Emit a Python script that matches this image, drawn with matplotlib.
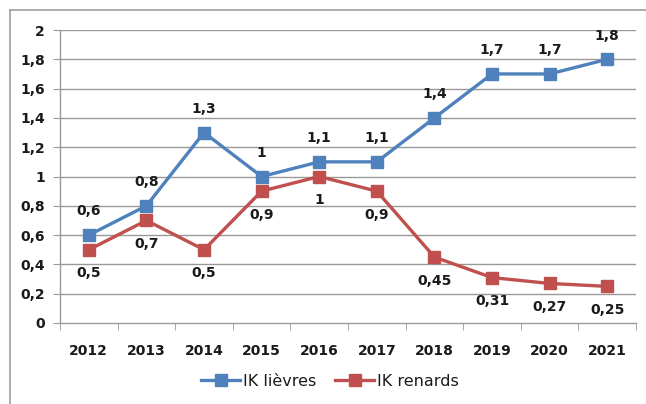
import matplotlib
matplotlib.use("Agg")
import matplotlib.pyplot as plt
from matplotlib.lines import Line2D
import numpy as np

years = ["2012", "2013", "2014", "2015", "2016", "2017", "2018", "2019", "2020", "2021"]
lievres = [0.6, 0.8, 1.3, 1.0, 1.1, 1.1, 1.4, 1.7, 1.7, 1.8]
renards = [0.5, 0.7, 0.5, 0.9, 1.0, 0.9, 0.45, 0.31, 0.27, 0.25]
series_names = ["IK lièvres", "IK renards"]
yticks = [0, 0.2, 0.4, 0.6, 0.8, 1.0, 1.2, 1.4, 1.6, 1.8, 2.0]

blue = "#4F81BD"
red = "#C0504D"
grid = "#999999"

def fr(v):
    s = ("%.2f" % v).rstrip("0").rstrip(".")
    return s.replace(".", ",")

plt.rcParams["font.family"] = ["DejaVu Sans"]
fig = plt.figure(figsize=(6.46, 4.04), dpi=100)
ax = fig.add_axes([60/646, 81/404, 576/646, 293/404])

x = np.arange(len(years))
ax.plot(x, lievres, color=blue, lw=2.4, marker="s", ms=8.5, label=series_names[0], zorder=3)
ax.plot(x, renards, color=red, lw=2.4, marker="s", ms=8.5, label=series_names[1], zorder=3)

for xi, v in zip(x, lievres):
    ax.annotate(fr(v), (xi, v), xytext=(0, 12), textcoords="offset points",
                ha="center", va="bottom", fontsize=10, fontweight="bold", color="#1a1a1a")
for xi, v in zip(x, renards):
    ax.annotate(fr(v), (xi, v), xytext=(0, -12), textcoords="offset points",
                ha="center", va="top", fontsize=10, fontweight="bold", color="#1a1a1a")

ax.set_xlim(-0.5, len(years) - 0.5)
ax.set_ylim(0, 2)
ax.set_yticks(yticks)
ax.set_yticklabels([fr(v) for v in yticks], fontsize=10, fontweight="bold", color="#1a1a1a")
ax.set_xticks(x)
ax.set_xticklabels(years, fontsize=10, fontweight="bold", color="#1a1a1a")
ax.tick_params(axis="x", which="major", length=0, pad=15)
ax.set_xticks(np.arange(-0.5, len(years)), minor=True)
ax.tick_params(axis="x", which="minor", length=5, color=grid, direction="out")
ax.tick_params(axis="y", which="major", length=5, color=grid, direction="out", pad=6)

for v in yticks[1:]:
    ax.axhline(v, color=grid, lw=1, zorder=1)

for s in ["top", "right"]:
    ax.spines[s].set_visible(False)
for s in ["left", "bottom"]:
    ax.spines[s].set_color(grid)
    ax.spines[s].set_linewidth(1)

handles = [Line2D([0], [0], color=blue, lw=2.4, marker="s", ms=8.5),
           Line2D([0], [0], color=red, lw=2.4, marker="s", ms=8.5)]
leg = fig.legend(handles, series_names, loc="center", bbox_to_anchor=(330/646, 1 - 381/404),
                 ncol=2, frameon=False, fontsize=11.5, handlelength=2.4, columnspacing=1.2,
                 handletextpad=0.2)
for t in leg.get_texts():
    t.set_color("#1a1a1a")

# outer border (left and top)
fig.add_artist(Line2D([10/646, 10/646], [0, 1 - 10/404], color="#A0A0A0", lw=1.2, transform=fig.transFigure))
fig.add_artist(Line2D([10/646, 1], [1 - 10/404, 1 - 10/404], color="#A0A0A0", lw=1.2, transform=fig.transFigure))

fig.savefig("out.png", dpi=100)
